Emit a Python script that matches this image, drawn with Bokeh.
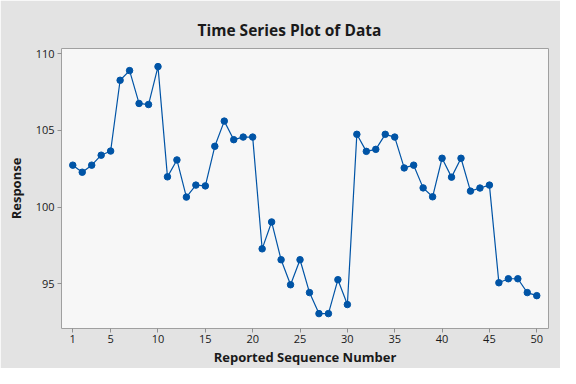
from bokeh.plotting import figure
from bokeh.models import Range1d, FixedTicker
from bokeh.embed import file_html
from bokeh.resources import INLINE

seq = list(range(1, 51))
response = [102.74, 102.28, 102.74, 103.39, 103.66, 108.27, 108.90, 106.76, 106.69, 109.16,
            101.98, 103.08, 100.66, 101.44, 101.39, 103.97, 105.61, 104.40, 104.57, 104.57,
            97.29, 99.04, 96.58, 94.95, 96.58, 94.44, 93.07, 93.07, 95.28, 93.66,
            104.75, 103.64, 103.77, 104.75, 104.57, 102.56, 102.74, 101.26, 100.68, 103.19,
            101.96, 103.19, 101.05, 101.25, 101.44, 95.08, 95.34, 95.34, 94.44, 94.24]
x_ticks = [1, 5, 10, 15, 20, 25, 30, 35, 40, 45, 50]
y_ticks = [95, 100, 105, 110]

BLUE = "#0054a6"
TXT = "#1a1a1a"
FONT = "Open Sans"

p = figure(width=560, height=368, output_backend="svg", toolbar_location=None,
           x_range=Range1d(-0.19, 51.24), y_range=Range1d(92.1, 110.34),
           title="Time Series Plot of Data",
           min_border_left=61, min_border_right=12, min_border_top=48, min_border_bottom=38)

p.background_fill_color = "#f7f7f7"
p.border_fill_color = "#e3e3e3"
p.outline_line_color = "#a0a0a0"
p.outline_line_width = 1
p.grid.visible = False

p.title.align = "left"
p.title.offset = 136
p.title.standoff = 16
p.title.text_font = FONT
p.title.text_font_size = "15.5px"
p.title.text_font_style = "bold"
p.title.text_color = TXT

p.line(seq, response, line_color=BLUE, line_width=1.2)
p.scatter(seq, response, size=6.5, fill_color=BLUE, line_color=BLUE)

for ax in (p.xaxis[0], p.yaxis[0]):
    ax.axis_line_color = None
    ax.major_tick_line_color = "#909090"
    ax.major_tick_in = 0
    ax.major_tick_out = 4
    ax.minor_tick_line_color = None
    ax.major_label_text_font = FONT
    ax.major_label_text_font_size = "11px"
    ax.major_label_text_color = TXT
    ax.axis_label_text_font = FONT
    ax.axis_label_text_font_size = "13px"
    ax.axis_label_text_font_style = "bold"
    ax.axis_label_text_color = TXT

p.xaxis.ticker = FixedTicker(ticks=x_ticks)
p.yaxis.ticker = FixedTicker(ticks=y_ticks)
p.xaxis.axis_label = "Reported Sequence Number"
p.yaxis.axis_label = "Response"
p.xaxis.major_label_standoff = 2
p.yaxis.major_label_standoff = 3
p.xaxis.axis_label_standoff = 2
p.yaxis.axis_label_standoff = 8

open("out.html", "w").write(file_html(p, INLINE))
